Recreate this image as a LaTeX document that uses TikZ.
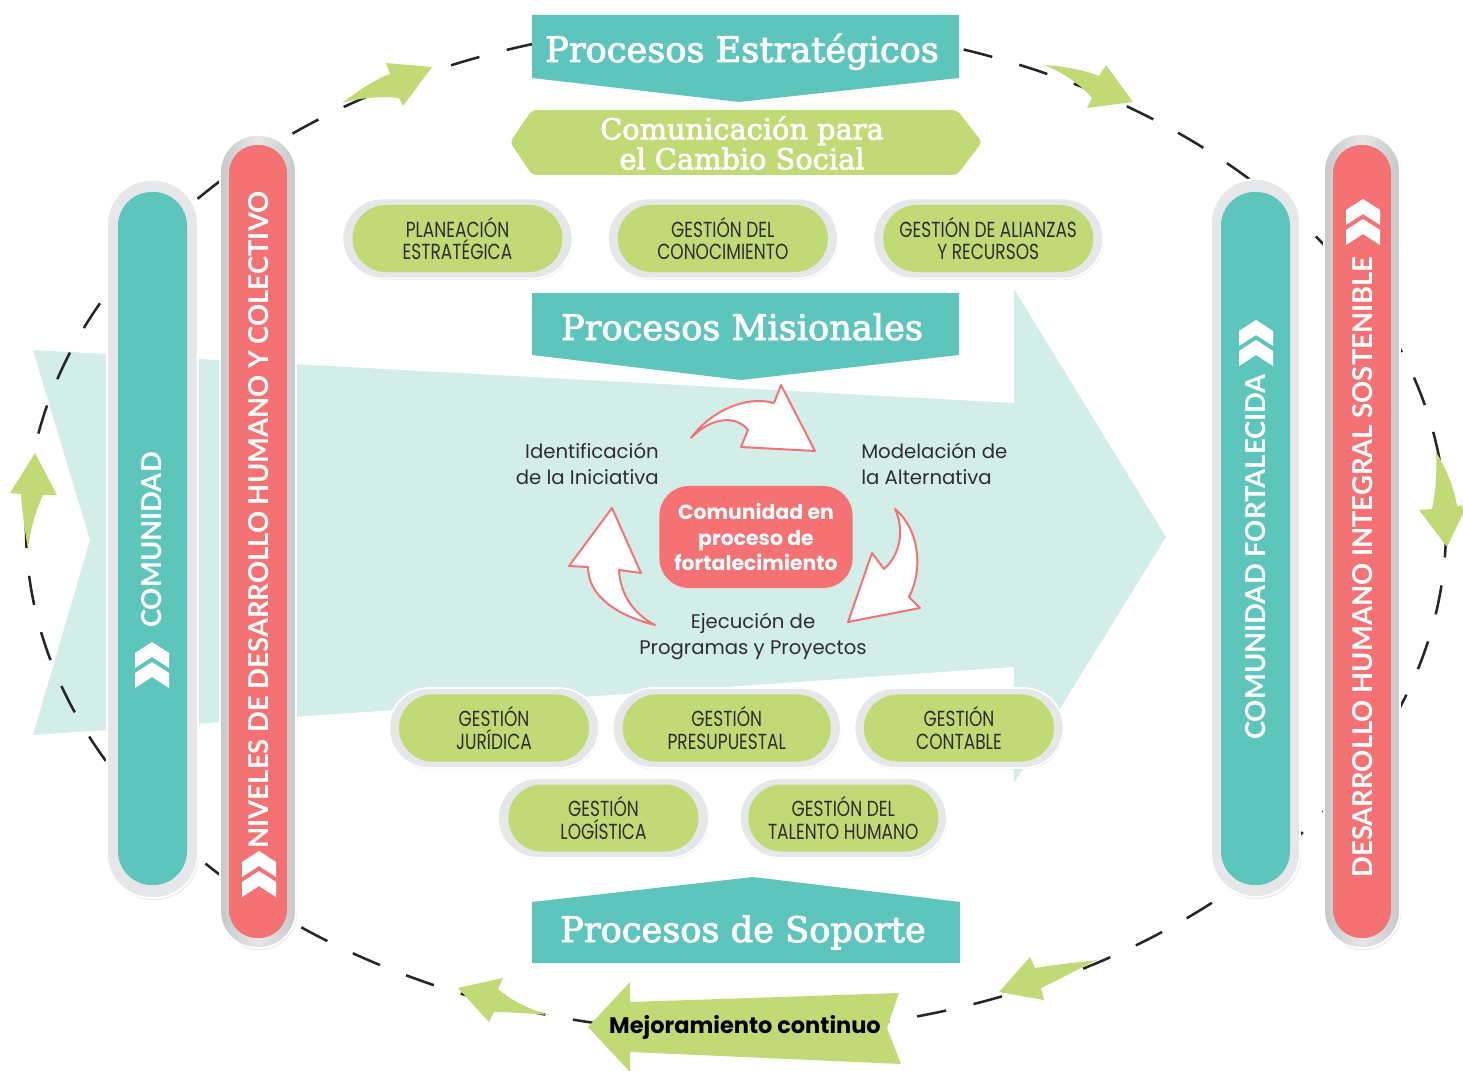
\documentclass[tikz,border=0pt]{standalone}
\usepackage{fontspec}
\setmainfont{Poppins}
\newfontfamily\slabfont{DejaVu Serif}[FakeBold=2.5]
\newfontfamily\capsfont{Poppins}[FakeStretch=0.78]
\newfontfamily\barfont{Lato}
\usetikzlibrary{positioning,shapes.misc,shadows}

\definecolor{tealbar}{HTML}{5EC5BD}
\definecolor{coralbar}{HTML}{F47274}
\definecolor{limegreen}{HTML}{C2DA76}
\definecolor{mintbg}{HTML}{D3EDE8}
\definecolor{framegray}{HTML}{E6E7E8}
\definecolor{framedark}{HTML}{C6C8CA}
\definecolor{inkgray}{HTML}{2E2E2E}

\tikzset{
  bannertext/.style={text=white, inner sep=0pt, font=\slabfont\fontsize{25}{28}\selectfont},
  subtitle/.style={text=white, inner sep=0pt, align=center, font=\slabfont\fontsize{20.5}{21.3}\selectfont},
  barframe/.style={fill=framegray, draw=white, line width=1.2pt,
    drop shadow={opacity=0.15, shadow xshift=1pt, shadow yshift=-1.5pt}},
  pillframe/.style={rounded rectangle, fill=framegray, draw=white, line width=1.2pt,
    drop shadow={opacity=0.15, shadow xshift=0.6pt, shadow yshift=-1pt},
    minimum height=2cm, inner sep=0pt},
  pill/.style={rounded rectangle, fill=limegreen, minimum height=1.675cm, inner sep=0pt,
    align=center, text=inkgray, font=\capsfont\fontsize{15.5}{15.8}\selectfont},
  bartext/.style={text=white, rotate=90, inner sep=0pt,
    font=\barfont\bfseries\fontsize{19.5}{20}\selectfont},
  steplabel/.style={text=inkgray, inner sep=0pt, font=\fontsize{14}{18.4}\selectfont},
  corebox/.style={rectangle, rounded corners=21pt, fill=coralbar, text=white, align=center,
    minimum width=4.825cm, minimum height=2.55cm, inner sep=0pt,
    font=\bfseries\fontsize{14.5}{18}\selectfont},
  cyclearrow/.style={fill=white, draw=coralbar, line width=1.4pt, line join=round},
  loopline/.style={draw=black!85, line width=1.8pt, dash pattern=on 21pt off 20pt},
  loopmark/.style={fill=limegreen},
  chev/.pic={
    \fill[white] (0,0) -- (17,11) -- (17,26) -- (0,15) -- (-17,26) -- (-17,11) -- cycle;
    \fill[white] (0,20) -- (17,31) -- (17,46) -- (0,35) -- (-17,46) -- (-17,31) -- cycle;
  }
}

\begin{document}
\begin{tikzpicture}[x=0.025cm,y=-0.025cm]
\useasboundingbox (0,0) rectangle (1463,1070);

% 1. Flecha de fondo
\fill[mintbg] (33,350) -- (1014,403) -- (1014,289) -- (1166,537) -- (1014,783)
  -- (1014,667) -- (33,735) -- (90,540) -- cycle;

% 2. Elipse punteada del ciclo
\draw[loopline] (736,528) ellipse [x radius=710, y radius=505];

% 3. Flechas verdes sobre la elipse
\fill[loopmark] (342,103) .. controls (362,88) and (378,78) .. (390,74) -- (386,63)
  -- (432,67) -- (403,106) -- (399,98) .. controls (380,96) and (358,98) .. cycle;
\fill[loopmark] (1044,65) .. controls (1062,66) and (1085,70) .. (1099,76) -- (1106,65)
  -- (1133,102) -- (1087,108) -- (1092,98) .. controls (1080,84) and (1062,72) .. cycle;
\fill[loopmark] (1436,452) .. controls (1446,468) and (1454,488) .. (1457,506) -- (1467,505)
  -- (1447,547) -- (1419,510) -- (1432,509) .. controls (1436,490) and (1437,470) .. cycle;
\fill[loopmark] (1097,960) .. controls (1080,962) and (1052,965) .. (1035,968) -- (1030,957)
  -- (999,992) -- (1044,1000) -- (1041,988) .. controls (1060,979) and (1080,968) .. cycle;
\fill[loopmark] (458,988) -- (503,978) -- (498,989) .. controls (512,1001) and (530,1010) .. (550,1015)
  .. controls (535,1014) and (510,1012) .. (494,1012) -- (489,1022) -- cycle;
\fill[loopmark] (35,453) -- (57,495) -- (43,495) .. controls (36,510) and (30,530) .. (28,550)
  .. controls (25,530) and (22,512) .. (21,494) -- (10,493) -- cycle;

% 4. Barras laterales
\path[barframe, rounded corners=31.5pt] (107,180) rectangle (198,898);
\fill[tealbar, rounded corners=24pt] (118,192) rectangle (187,885);
\path[barframe, left color=framedark, right color=framedark, middle color=framegray,
  rounded corners=26.5pt] (220,135) rectangle (296,948);
\fill[coralbar, rounded corners=20pt] (229,145) rectangle (287,938);
\path[barframe, rounded corners=31.5pt] (1211,179) rectangle (1300,897);
\fill[tealbar, rounded corners=24pt] (1221,192) rectangle (1290,885);
\path[barframe, left color=framedark, right color=framedark, middle color=framegray,
  rounded corners=26.5pt] (1324,134) rectangle (1400,948);
\fill[coralbar, rounded corners=20pt] (1333,145) rectangle (1391,938);

\node[bartext] (comunidad) at (152,540) {COMUNIDAD};
\node[bartext] (niveles) at (258.5,520) {NIVELES DE DESARROLLO HUMANO Y COLECTIVO};
\node[bartext] (fortalecida) at (1256,557) {COMUNIDAD FORTALECIDA};
\node[bartext] (sostenible) at (1363,567) {DESARROLLO HUMANO INTEGRAL SOSTENIBLE};
\pic at (152,642) {chev};
\pic at (259,851) {chev};
\pic at (1256,320) {chev};
\pic at (1363,199) {chev};

% 5. Encabezados de procesos
\fill[tealbar] (532,15) -- (959,15) -- (959,78) -- (739,102) -- (532,78) -- cycle;
\node[bannertext, anchor=base] (estrategicos) at (742,62) {Procesos Estratégicos};
\fill[limegreen, rounded corners=3pt] (510,142) -- (532,110) -- (957,110) -- (982,142)
  -- (957,175) -- (532,175) -- cycle;
\node[subtitle] (comunicacion) at (742,143) {Comunicación para\\el Cambio Social};
\fill[tealbar] (532,293) -- (959,293) -- (959,355) -- (741,380) -- (532,355) -- cycle;
\node[bannertext, anchor=base] (misionales) at (742,340) {Procesos Misionales};
\fill[tealbar] (532,902) -- (753,877) -- (960,902) -- (960,963) -- (532,963) -- cycle;
\node[bannertext, anchor=base] (soporte) at (743,942) {Procesos de Soporte};

% 6. Procesos estrategicos y de soporte
\node[pillframe, minimum width=5.75cm] (fPlan) at (457.5,238.5) {};
\node[pillframe, minimum width=5.75cm, right=0.84cm of fPlan] (fConoc) {};
\node[pillframe, minimum width=5.75cm, right=0.84cm of fConoc] (fAlianzas) {};
\node[pill, minimum width=5.25cm] (plan) at (fPlan) {PLANEACIÓN\\ESTRATÉGICA};
\node[pill, minimum width=5.25cm] (conoc) at (fConoc) {GESTIÓN DEL\\CONOCIMIENTO};
\node[pill, minimum width=5.25cm] (alianzas) at (fAlianzas) {GESTIÓN DE ALIANZAS\\Y RECURSOS};

\node[pillframe, minimum width=5.25cm] (fJuridica) at (494,728) {};
\node[pillframe, minimum width=5.7cm, right=0.3cm of fJuridica] (fPresup) {};
\node[pillframe, minimum width=5.225cm, right=0.3cm of fPresup] (fContable) {};
\node[pill, minimum width=4.75cm] (juridica) at (fJuridica) {GESTIÓN\\JURÍDICA};
\node[pill, minimum width=5.2cm] (presup) at (fPresup) {GESTIÓN\\PRESUPUESTAL};
\node[pill, minimum width=4.75cm] (contable) at (fContable) {GESTIÓN\\CONTABLE};

\node[pillframe, minimum width=5.275cm] (fLogistica) at (603.5,818) {};
\node[pillframe, minimum width=5.175cm, right=0.725cm of fLogistica] (fTalento) {};
\node[pill, minimum width=4.75cm] (logistica) at (fLogistica) {GESTIÓN\\LOGÍSTICA};
\node[pill, minimum width=4.75cm] (talento) at (fTalento) {GESTIÓN DEL\\TALENTO HUMANO};

% 7. Ciclo de procesos misionales
\node[corebox] (nucleo) at (756,537) {Comunidad en\\proceso de\\fortalecimiento};
\draw[cyclearrow] (691,438) .. controls (710,412) and (745,395) .. (774,403) -- (781,385)
  -- (815,451) -- (741,447) -- (748,430) .. controls (735,414) and (710,418) .. cycle;
\draw[cyclearrow] (895,509) .. controls (920,530) and (923,570) .. (909,597) -- (920,608)
  -- (848,622) -- (872,553) -- (884,569) .. controls (900,555) and (905,530) .. cycle;
\draw[cyclearrow] (655,625) .. controls (615,615) and (588,595) .. (588,567) -- (569,566)
  -- (612,508) -- (641,573) -- (619,570) .. controls (620,595) and (635,615) .. cycle;
\node[steplabel, align=right, anchor=east] (identificacion) at (659,464) {Identificación\\de la Iniciativa};
\node[steplabel, align=left, anchor=west] (modelacion) at (861,464) {Modelación de\\la Alternativa};
\node[steplabel, align=center] (ejecucion) at (753,636) {Ejecución de\\Programas y Proyectos};

% 8. Mejoramiento continuo
\fill[loopmark] (588,1027) -- (630,982) -- (630,1002) -- (899,993) -- (887,1028)
  -- (901,1064) -- (630,1052) -- (630,1072) -- cycle;
\node[anchor=base, inner sep=0pt, font=\bfseries\fontsize{16}{18}\selectfont] (mejora)
  at (745,1033) {Mejoramiento continuo};

\end{tikzpicture}
\end{document}
